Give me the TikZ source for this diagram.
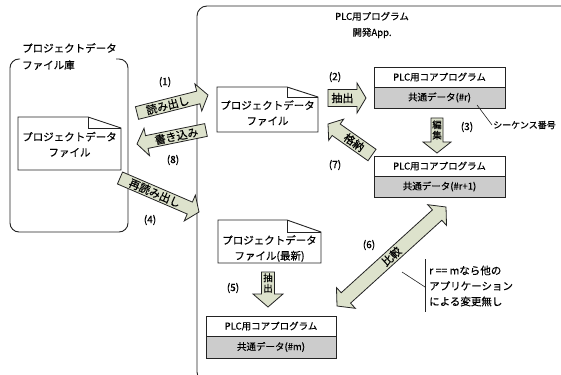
\documentclass[tikz,border=0pt]{standalone}
\usepackage{fontspec}
\setmainfont{Noto Sans CJK JP}[FakeBold=0.4]
\usetikzlibrary{calc}
\definecolor{arrfill}{RGB}{221,226,204}
\definecolor{rowgray}{RGB}{204,204,204}
\definecolor{lineclr}{RGB}{35,35,35}
% single block arrow: #1 start, #2 tip, #3 body half width, #4 head half width, #5 head length, #6 name
\newcommand\blkarrow[6]{%
  \coordinate (#6h) at ($(#2)!#5!(#1)$);
  \draw[blkarrowsty] ($(#1)!#3!90:(#2)$) -- ($(#6h)!#3!-90:(#1)$) -- ($(#6h)!#4!-90:(#1)$) -- (#2)
    -- ($(#6h)!#4!90:(#1)$) -- ($(#6h)!#3!90:(#1)$) -- ($(#1)!#3!-90:(#2)$) -- cycle;
}
% double block arrow: #1 tip A, #2 tip B, #3 body half, #4 head half, #5 head length, #6 name
\newcommand\dblarrow[6]{%
  \coordinate (#6a) at ($(#1)!#5!(#2)$);
  \coordinate (#6b) at ($(#2)!#5!(#1)$);
  \draw[blkarrowsty] (#1) -- ($(#6a)!#4!90:(#2)$) -- ($(#6a)!#3!90:(#2)$) -- ($(#6b)!#3!-90:(#1)$)
    -- ($(#6b)!#4!-90:(#1)$) -- (#2) -- ($(#6b)!#4!90:(#1)$) -- ($(#6b)!#3!90:(#1)$)
    -- ($(#6a)!#3!-90:(#2)$) -- ($(#6a)!#4!-90:(#2)$) -- cycle;
}
\begin{document}
\begin{tikzpicture}[x=1pt,y=-1pt,
  frame/.style={draw=lineclr, line width=0.9pt},
  blkarrowsty/.style={draw=lineclr, fill=arrfill, line width=0.8pt, line join=miter},
  arrtext/.style={font=\fontsize{11}{11}\selectfont, inner sep=0pt},
  vtext/.style={font=\fontsize{9.5}{10.5}\selectfont, inner sep=0pt, align=center},
  lbl/.style={font=\fontsize{10}{12}\selectfont, inner sep=0pt},
  doctext/.style={font=\fontsize{10.5}{15.5}\selectfont, align=center, inner sep=0pt},
  boxtext/.style={font=\fontsize{9.5}{11}\selectfont, inner sep=0pt},
  titletext/.style={font=\fontsize{10.5}{12}\selectfont, inner sep=0pt, anchor=west},
  note/.style={draw=lineclr, line width=0.6pt}]

\useasboundingbox (0,0) rectangle (561,374);
\clip (0,0) rectangle (561,374);
\fill[white] (0,0) rectangle (561,374);

% application frame
\draw[frame, rounded corners=10] (197,6) rectangle (640,382);
\node[inner sep=0pt, align=center, font=\fontsize{9.5}{16}\selectfont] (apptitle) at (372,25) {PLC用プログラム\\開発App.};

% file library
\draw[frame, rounded corners=9] (20,59) -- (10,59) -- (10,232) -- (128,232) -- (128,59) -- (116,59);
\node[titletext] (libt1) at (22,48) {プロジェクトデータ};
\node[titletext] (libt2) at (22,65) {ファイル庫};

% documents
\draw[frame, fill=white] (18,117) -- (88,117) -- (121,128) -- (121,170) -- (18,170) -- cycle;
\draw[frame] (88,117) -- (88,128) -- (121,128);
\node[doctext] (fileL) at (69.5,144.5) {プロジェクトデータ\\ファイル};

\draw[frame, fill=white] (217,87) -- (287,87) -- (318,97) -- (318,132) -- (217,132) -- cycle;
\draw[frame] (287,87) -- (287,97) -- (318,97);
\node[doctext] (fileM) at (267.5,113) {プロジェクトデータ\\ファイル};

\draw[frame, fill=white] (218,220) -- (287,220) -- (321,232) -- (321,263) -- (218,263) -- cycle;
\draw[frame] (287,220) -- (287,232) -- (321,232);
\node[doctext] (fileN) at (269.5,248.5) {プロジェクトデータ\\ファイル(最新)};

% PLC program boxes
\draw[frame, fill=white] (374,67) rectangle (505,87);
\draw[frame, fill=rowgray] (374,87) rectangle (505,108);
\node[boxtext] (core1) at (439.5,77) {PLC用コアプログラム};
\node[boxtext] (data1) at (439.5,97.5) {共通データ(\#r)};

\draw[frame, fill=white] (374,156) rectangle (505,176);
\draw[frame, fill=rowgray] (374,176) rectangle (505,197);
\node[boxtext] (core2) at (439.5,166) {PLC用コアプログラム};
\node[boxtext] (data2) at (439.5,186.5) {共通データ(\#r+1)};

\draw[frame, fill=white] (206,316) rectangle (336,336);
\draw[frame, fill=rowgray] (206,336) rectangle (336,358);
\node[boxtext] (core3) at (271,326) {PLC用コアプログラム};
\node[boxtext] (data3) at (271,347) {共通データ(\#m)};

% arrow end points
\coordinate (a1s) at (137,113);
\coordinate (a1e) at (208,95);
\coordinate (a8s) at (206,130);
\coordinate (a8e) at (137,144);
\coordinate (a4s) at (120,178);
\coordinate (a4e) at (199,212);
\coordinate (a2s) at (328,98);
\coordinate (a2e) at (366,98);
\coordinate (a7s) at (372,155);
\coordinate (a7e) at (328,124);
\coordinate (a3s) at (437,118);
\coordinate (a3e) at (437,153);
\coordinate (a5s) at (268,272);
\coordinate (a5e) at (268,307);
\coordinate (a6s) at (337,306);
\coordinate (a6e) at (446,207);

\blkarrow{a1s}{a1e}{6.5pt}{14pt}{10pt}{a1}
\path (a1s) -- (a1h) node[midway, sloped, arrtext] (t1) {読み出し};
\blkarrow{a8s}{a8e}{6.5pt}{14pt}{10pt}{a8}
\path (a8s) -- (a8h) node[midway, sloped, arrtext] (t8) {書き込み};
\blkarrow{a4s}{a4e}{6.5pt}{14pt}{10pt}{a4}
\path (a4s) -- (a4h) node[midway, sloped, arrtext] (t4) {再読み出し};
\blkarrow{a2s}{a2e}{8.5pt}{15pt}{9pt}{a2}
\path (a2s) -- (a2h) node[midway, sloped, arrtext] (t2) {抽出};
\blkarrow{a7s}{a7e}{7pt}{13pt}{10pt}{a7}
\path (a7s) -- (a7h) node[midway, sloped, arrtext] (t7) {格納};
\blkarrow{a3s}{a3e}{6pt}{14pt}{11pt}{a3}
\node[vtext] (t3) at ($(a3s)!0.5!(a3h)$) {編\\集};
\blkarrow{a5s}{a5e}{6.5pt}{15pt}{13pt}{a5}
\node[vtext] (t5) at ($(a5s)!0.5!(a5h)$) {抽\\出};
\dblarrow{a6s}{a6e}{7pt}{14pt}{12pt}{a6}
\path (a6s) -- (a6e) node[midway, sloped, arrtext] (t6) {比較};

% step labels
\node[lbl] (s1) at (165,82) {(1)};
\node[lbl] (s8) at (173,160) {(8)};
\node[lbl] (s4) at (150,220) {(4)};
\node[lbl] (s2) at (335,77) {(2)};
\node[lbl] (s7) at (335,165) {(7)};
\node[lbl] (s3) at (467,127) {(3)};
\node[lbl] (s5) at (233,288) {(5)};
\node[lbl] (s6) at (369,245) {(6)};

% callouts
\coordinate (c1a) at (477,105);
\coordinate (c1b) at (492,125);
\draw[note] (c1a) -- (c1b);
\node[inner sep=0pt, anchor=west, font=\fontsize{9}{11}\selectfont] (seqno) at (493,125) {シーケンス番号};

\coordinate (c2a) at (402,272);
\coordinate (c2b) at (425,287);
\coordinate (c2t) at (425,259);
\coordinate (c2u) at (425,312);
\draw[note] (c2a) -- (c2b);
\draw[note] (c2t) -- (c2u);
\node[inner sep=0pt, anchor=west, align=left, font=\fontsize{10.5}{15.5}\selectfont] (cmpnote) at (429,286) {r == mなら他の\\アプリケーション\\による変更無し};
\end{tikzpicture}
\end{document}
